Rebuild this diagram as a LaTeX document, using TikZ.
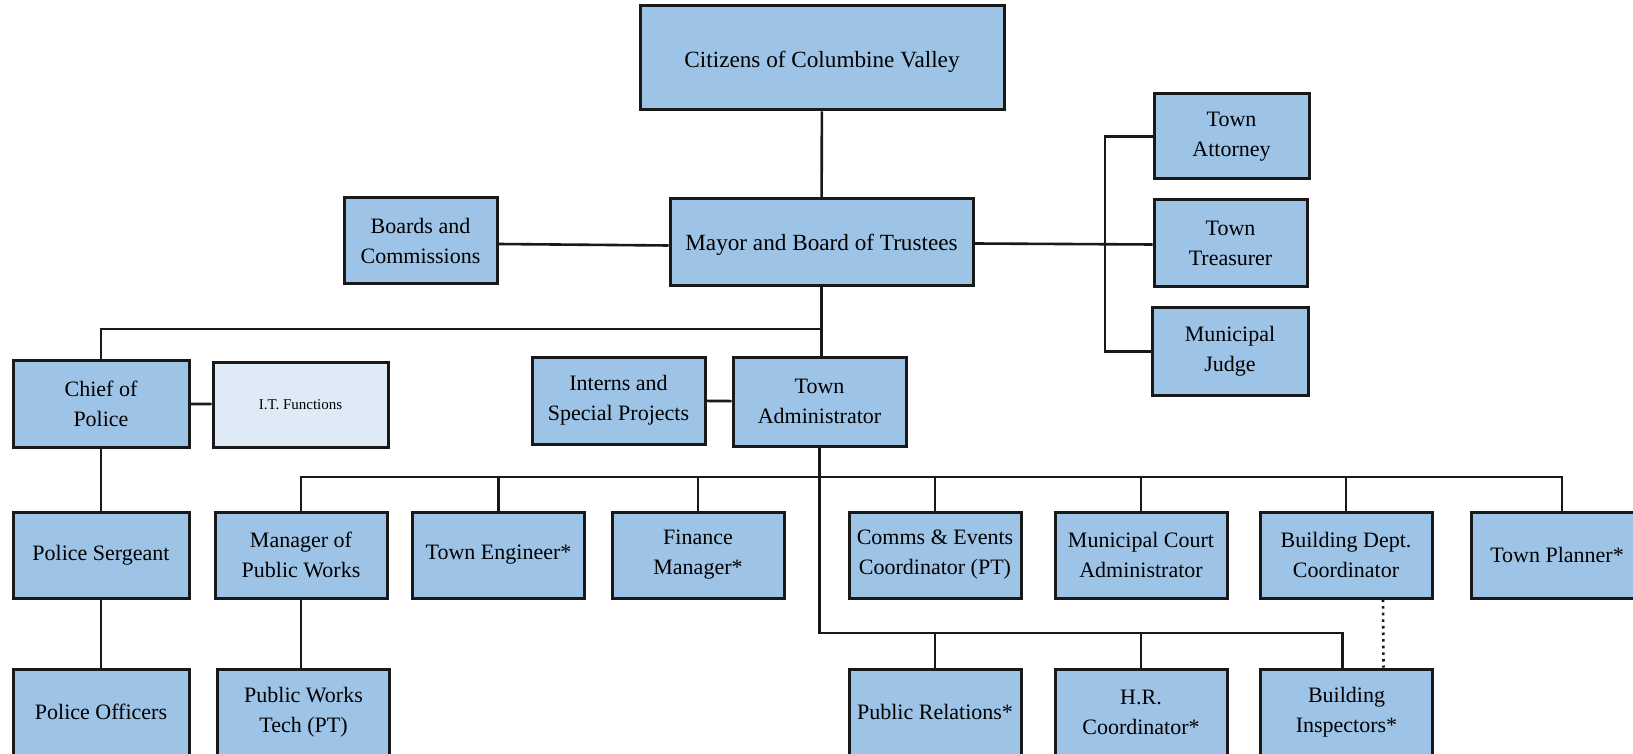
\documentclass[tikz,border=0pt]{standalone}
\usepackage{fontspec}
\setmainfont{Liberation Serif}
\definecolor{boxblue}{HTML}{9DC3E6}
\definecolor{paleblue}{HTML}{DEEBF7}
\tikzset{
  box/.style={draw=black!90, line width=1.5pt, fill=boxblue, align=center,
    minimum width=86pt, minimum height=43pt, inner sep=2pt, font=\fontsize{11}{15}\selectfont},
  bigbox/.style={box, font=\fontsize{11.6}{15}\selectfont, text depth=2.5pt},
  link/.style={line width=1.3pt, black!90}
}
\begin{document}
\begin{tikzpicture}[x=0.5pt,y=-0.5pt]
\clip (0,0) rectangle (1633,754);
\fill [white] (0,0) rectangle (1633,754);

\node [bigbox, minimum width=182pt, minimum height=52pt, text height=12pt] (cit) at (822,58) {Citizens of Columbine Valley};
\node [bigbox, minimum width=151.5pt, minimum height=43.5pt, text height=11pt] (mayor) at (821.5,242.5) {Mayor and Board of Trustees};
\node [box, minimum width=76.5pt] (boards) at (420.5,241) {Boards and\\Commissions};

\node [box, minimum width=77.5pt, minimum height=42.5pt] (attorney) at (1231.5,136.5) {Town\\Attorney};
\node [box, minimum width=76.5pt, minimum height=43.5pt] (treasurer) at (1230.5,243.5) {Town\\Treasurer};
\node [box, minimum width=78pt, minimum height=43.5pt] (judge) at (1230,351.5) {Municipal\\Judge};
\coordinate (rbus) at (1105,0);

\node [box, minimum width=88pt, minimum height=43.5pt] (chief) at (101,403.5) {Chief of\\Police};
\node [box, minimum width=87.5pt, minimum height=42.5pt, fill=paleblue, font=\fontsize{7.5}{9}\selectfont] (it) at (300.5,404.5) {I.T. Functions};
\node [box, minimum width=86.5pt, minimum height=43.5pt] (interns) at (618.5,400.5) {Interns and\\Special Projects};
\node [box, minimum width=86.5pt, minimum height=44.5pt] (admin) at (819.5,401.5) {Town\\Administrator};
\coordinate (topbus) at (0,329);

\node [box, minimum width=88pt] (sergeant) at (101,555) {Police Sergeant};
\node [box] (pwmgr) at (301,555) {Manager of\\Public Works};
\node [box] (engineer) at (498.5,555) {Town Engineer*};
\node [box] (finance) at (698,555) {Finance\\Manager*};
\node [box] (comms) at (935,555) {Comms \& Events\\Coordinator (PT)};
\node [box] (court) at (1141,555) {Municipal Court\\Administrator};
\node [box] (bldgcoord) at (1346,555) {Building Dept.\\Coordinator};
\node [box] (planner) at (1557,555) {Town Planner*};
\coordinate (bus3) at (0,477);

\node [box, minimum width=88pt] (officers) at (101,712) {Police Officers};
\node [box] (pwtech) at (303.5,712) {Public Works\\Tech (PT)};
\node [box] (pr) at (935,712) {Public Relations*};
\node [box] (hr) at (1141,712) {H.R.\\Coordinator*};
\node [box] (inspectors) at (1346.5,712) {Building\\Inspectors*};
\coordinate (bus4) at (0,633);

\draw [link] (cit) -- (mayor);
\draw [link] ([yshift=-1.5pt]boards.east) -- ([yshift=-1.5pt]mayor.west);
\draw [link] ([yshift=-0.5pt]mayor.east) -- ([yshift=-0.5pt]treasurer.west);
\draw [link] (attorney.west) -- (attorney.west -| rbus) -- (judge.west -| rbus) -- (judge.west);

\draw [link] (mayor.south) -- (mayor.south |- admin.north);
\draw [link] (mayor.south |- topbus) -| (chief.north);
\draw [link] (chief) -- (it);
\draw [link] (interns) -- (admin);
\draw [link] (chief) -- (sergeant);
\draw [link] (sergeant) -- (officers);
\draw [link] (pwmgr.south) -- (pwtech.north -| pwmgr.south);

\draw [link] (admin.south) -- (admin.south |- bus4) -| ([xshift=-2pt]inspectors.north);
\draw [link] (pwmgr.north) |- ([xshift=2.5pt]bus3 -| planner.north) -- ([xshift=2.5pt]planner.north);
\foreach \n in {engineer,finance,comms,court,bldgcoord}
  \draw [link] (\n.north) -- (\n.north |- bus3);
\foreach \n in {pr,hr}
  \draw [link] (\n.north) -- (\n.north |- bus4);
\draw [link, dotted] ([xshift=18.5pt]bldgcoord.south) -- ([xshift=18.5pt]inspectors.north);

\end{tikzpicture}
\end{document}
